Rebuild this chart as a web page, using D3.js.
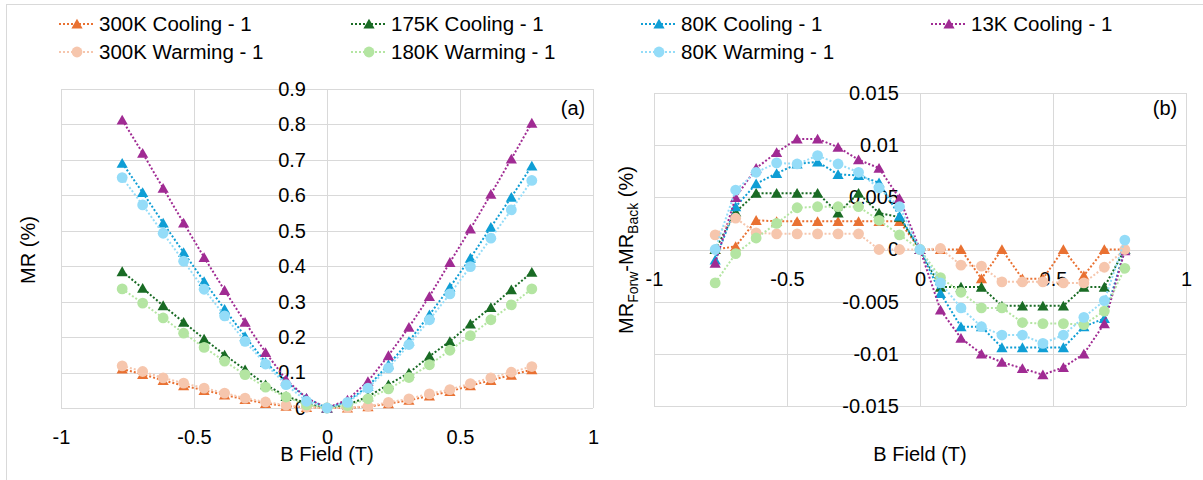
<!DOCTYPE html>
<html><head><meta charset="utf-8">
<script src="https://cdn.jsdelivr.net/npm/d3@7"></script>
<style>
body{margin:0;background:#fff}
svg{display:block}
text{font-family:"Liberation Sans",Arial,sans-serif;fill:#000}
</style>
</head><body>
<svg id="c" width="1203" height="480"></svg>
<script>
// ---------- data ----------
const fieldT = [-0.77,-0.693,-0.616,-0.539,-0.462,-0.385,-0.308,-0.231,-0.154,-0.077,0,
                0.077,0.154,0.231,0.308,0.385,0.462,0.539,0.616,0.693,0.77];

const seriesNames = ["300K Cooling - 1","175K Cooling - 1","80K Cooling - 1","13K Cooling - 1",
                     "300K Warming - 1","180K Warming - 1","80K Warming - 1"];

// Panel (a): MR (%)
const mr300C = [0.110,0.095,0.078,0.063,0.050,0.037,0.024,0.013,0.005,0.002,0,
                0.000,0.004,0.012,0.022,0.034,0.047,0.063,0.078,0.093,0.108];
const mr175C = [0.385,0.338,0.289,0.242,0.195,0.150,0.108,0.066,0.033,0.014,0,
                0.009,0.032,0.066,0.099,0.146,0.188,0.237,0.284,0.334,0.383];
const mr80C  = [0.691,0.608,0.522,0.439,0.357,0.279,0.202,0.129,0.075,0.028,0,
                0.019,0.061,0.122,0.188,0.263,0.341,0.423,0.510,0.595,0.683];
const mr13C  = [0.813,0.719,0.620,0.522,0.425,0.332,0.242,0.157,0.080,0.028,0,
                0.023,0.075,0.148,0.228,0.315,0.411,0.505,0.603,0.703,0.804];
const mr300W = [0.119,0.103,0.085,0.070,0.056,0.042,0.028,0.017,0.008,0.002,0,
                0.001,0.005,0.016,0.026,0.040,0.052,0.069,0.085,0.101,0.117];
const mr180W = [0.336,0.296,0.254,0.211,0.171,0.132,0.094,0.059,0.031,0.009,0,
                0.007,0.026,0.054,0.086,0.122,0.163,0.204,0.249,0.291,0.336];
const mr80W  = [0.650,0.573,0.493,0.414,0.335,0.260,0.188,0.124,0.066,0.019,0,
                0.016,0.056,0.113,0.179,0.249,0.322,0.399,0.479,0.559,0.642];

// Panel (b): MR_Forw - MR_Back (%)
const d300C = [0.0000,0.0003,0.0028,0.0027,0.0027,0.0027,0.0027,0.0027,0.0027,0.0027,0,
               0.0000,0.0000,-0.0028,0.0000,-0.0028,-0.0028,0.0000,-0.0025,0.0000,0.0000];
const d175C = [0.0000,0.0036,0.0054,0.0054,0.0054,0.0054,0.0035,0.0054,0.0035,0.0031,0,
               -0.0036,-0.0036,-0.0036,-0.0054,-0.0054,-0.0054,-0.0054,-0.0036,-0.0036,0.0000];
const d80C  = [-0.0010,0.0041,0.0063,0.0073,0.0082,0.0084,0.0072,0.0071,0.0064,0.0032,0,
               -0.0042,-0.0074,-0.0074,-0.0094,-0.0094,-0.0094,-0.0094,-0.0074,-0.0066,0.0000];
const d13C  = [-0.0013,0.0050,0.0078,0.0093,0.0106,0.0106,0.0098,0.0086,0.0078,0.0049,0,
               -0.0058,-0.0085,-0.0100,-0.0108,-0.0114,-0.0120,-0.0113,-0.0100,-0.0071,-0.0001];
const d300W = [0.0014,0.0030,0.0016,0.0015,0.0015,0.0015,0.0015,0.0015,0.0000,0.0000,0,
               0.0001,-0.0015,-0.0016,-0.0031,-0.0031,-0.0031,-0.0032,-0.0032,-0.0017,0.0000];
const d180W = [-0.0032,-0.0004,0.0011,0.0025,0.0040,0.0041,0.0041,0.0041,0.0028,0.0014,0,
               -0.0027,-0.0041,-0.0056,-0.0056,-0.0070,-0.0071,-0.0071,-0.0072,-0.0059,-0.0018];
const d80W  = [0.0000,0.0057,0.0074,0.0083,0.0082,0.0090,0.0082,0.0074,0.0059,0.0041,0,
               -0.0032,-0.0056,-0.0074,-0.0082,-0.0082,-0.0090,-0.0082,-0.0065,-0.0049,0.0009];

const xTickVals = [-1,-0.5,0,0.5,1];
const xTickLabels = ["-1","-0.5","0","0.5","1"];
const yTickValsA = [0,0.1,0.2,0.3,0.4,0.5,0.6,0.7,0.8,0.9];
const yTickLabelsA = ["0","0.1","0.2","0.3","0.4","0.5","0.6","0.7","0.8","0.9"];
const yTickValsB = [-0.015,-0.01,-0.005,0,0.005,0.01,0.015];
const yTickLabelsB = ["-0.015","-0.01","-0.005","0","0.005","0.01","0.015"];

// ---------- styles ----------
const colors  = ["#E97132","#196B24","#0F9ED5","#A02B93","#F6C6AD","#B4E5A2","#94DCF8"];
const markers = ["tri","tri","tri","tri","circ","circ","circ"];
const dataA = [mr300C,mr175C,mr80C,mr13C,mr300W,mr180W,mr80W];
const dataB = [d300C,d175C,d80C,d13C,d300W,d180W,d80W];

const svg = d3.select("#c");
svg.append("rect").attr("x",6.5).attr("y",4.5).attr("width",1220).attr("height",500)
  .attr("fill","#fff").attr("stroke","#D9D9D9");

const triPath = "M0,-5.2L5.6,4.6L-5.6,4.6Z";
function drawMarker(sel, type, color) {
  if (type === "tri") sel.append("path").attr("d", triPath).attr("fill", color);
  else sel.append("circle").attr("r", 5.4).attr("fill", color);
}

function panel(cfg) {
  const x = d3.scaleLinear().domain([-1,1]).range([cfg.x0, cfg.x1]);
  const y = d3.scaleLinear().domain(cfg.yDomain).range([cfg.yb, cfg.yt]);
  const g = svg.append("g");
  const grid = "#D9D9D9";
  g.append("g").selectAll("line").data(cfg.yTicks).join("line")
    .attr("x1", x(-1)).attr("x2", x(1))
    .attr("y1", d => Math.round(y(d)) + 0.5).attr("y2", d => Math.round(y(d)) + 0.5)
    .attr("stroke", grid).attr("stroke-width", 1);
  g.append("g").selectAll("line").data(xTickVals).join("line")
    .attr("x1", d => Math.round(x(d)) + 0.5).attr("x2", d => Math.round(x(d)) + 0.5)
    .attr("y1", y(cfg.yDomain[0])).attr("y2", y(cfg.yDomain[1]))
    .attr("stroke", grid).attr("stroke-width", 1);

  // y axis labels (at x = 0)
  const ya = g.append("g").attr("transform", `translate(${x(0)},0)`)
    .call(d3.axisLeft(y).tickValues(cfg.yTicks).tickFormat((d,i) => cfg.yLabels[i])
      .tickSize(0).tickPadding(21));
  ya.select(".domain").remove();
  ya.selectAll("text").attr("font-size", 20).attr("font-family", '"Liberation Sans",Arial,sans-serif').attr("fill","#000");

  // x axis labels (at y = 0)
  const xa = g.append("g").attr("transform", `translate(0,${y(0)})`)
    .call(d3.axisBottom(x).tickValues(xTickVals).tickFormat((d,i) => xTickLabels[i])
      .tickSize(0).tickPadding(0));
  xa.select(".domain").remove();
  xa.selectAll("text").attr("font-size", 20).attr("font-family", '"Liberation Sans",Arial,sans-serif')
    .attr("fill","#000").attr("y", 29).attr("dy", "0.35em");

  const line = d3.line().x(d => x(d[0])).y(d => y(d[1]));
  cfg.data.forEach((vals, si) => {
    const pts = fieldT.map((f, i) => [f, vals[i]]);
    const sg = g.append("g");
    sg.append("path").attr("d", line(pts)).attr("fill", "none")
      .attr("stroke", colors[si]).attr("stroke-width", 2).attr("stroke-dasharray", "2,2");
    sg.selectAll("g.m").data(pts).join("g").attr("class","m")
      .attr("transform", d => `translate(${x(d[0])},${y(d[1])})`)
      .each(function() { drawMarker(d3.select(this), markers[si], colors[si]); });
  });

  g.append("text").attr("x", cfg.tagX).attr("y", 108).attr("dy","0.35em")
    .attr("text-anchor","middle").attr("font-size", 20).text(cfg.tag);
  g.append("text").attr("x", x(0)).attr("y", 454).attr("dy","0.35em")
    .attr("text-anchor","middle").attr("font-size", 20).text("B Field (T)");
}

panel({x0:61, x1:593, yDomain:[0,0.9], yb:408, yt:89, yTicks:yTickValsA, yLabels:yTickLabelsA,
       data:dataA, tag:"(a)", tagX:573});
panel({x0:654, x1:1186, yDomain:[-0.015,0.015], yb:406, yt:93, yTicks:yTickValsB, yLabels:yTickLabelsB,
       data:dataB, tag:"(b)", tagX:1165});

// y axis titles
svg.append("text").attr("transform","translate(28,250) rotate(-90)").attr("text-anchor","middle")
  .attr("dy","0.35em").attr("font-size",20).text("MR (%)");
const yb = svg.append("text").attr("transform","translate(626,250) rotate(-90)").attr("text-anchor","middle")
  .attr("dy","0.35em").attr("font-size",20);
yb.append("tspan").text("MR");
yb.append("tspan").attr("font-size",14).attr("dy",5).text("Forw");
yb.append("tspan").attr("dy",-5).text("-MR");
yb.append("tspan").attr("font-size",14).attr("dy",5).text("Back");
yb.append("tspan").attr("dy",-5).text(" (%)");

// legend
const legX = [77, 369, 659, 949];
const legY = [24, 52];
seriesNames.forEach((name, i) => {
  const col = i < 4 ? i : i - 4;
  const row = i < 4 ? 0 : 1;
  const lg = svg.append("g").attr("transform", `translate(${legX[col]},${legY[row]})`);
  lg.append("line").attr("x1",-18).attr("x2",18).attr("y1",0).attr("y2",0)
    .attr("stroke", colors[i]).attr("stroke-width",2).attr("stroke-dasharray","2,2");
  drawMarker(lg, markers[i], colors[i]);
  lg.append("text").attr("x", 22).attr("y", 0).attr("dy","0.35em").attr("font-size",20.5).text(name);
});
</script>
</body></html>
